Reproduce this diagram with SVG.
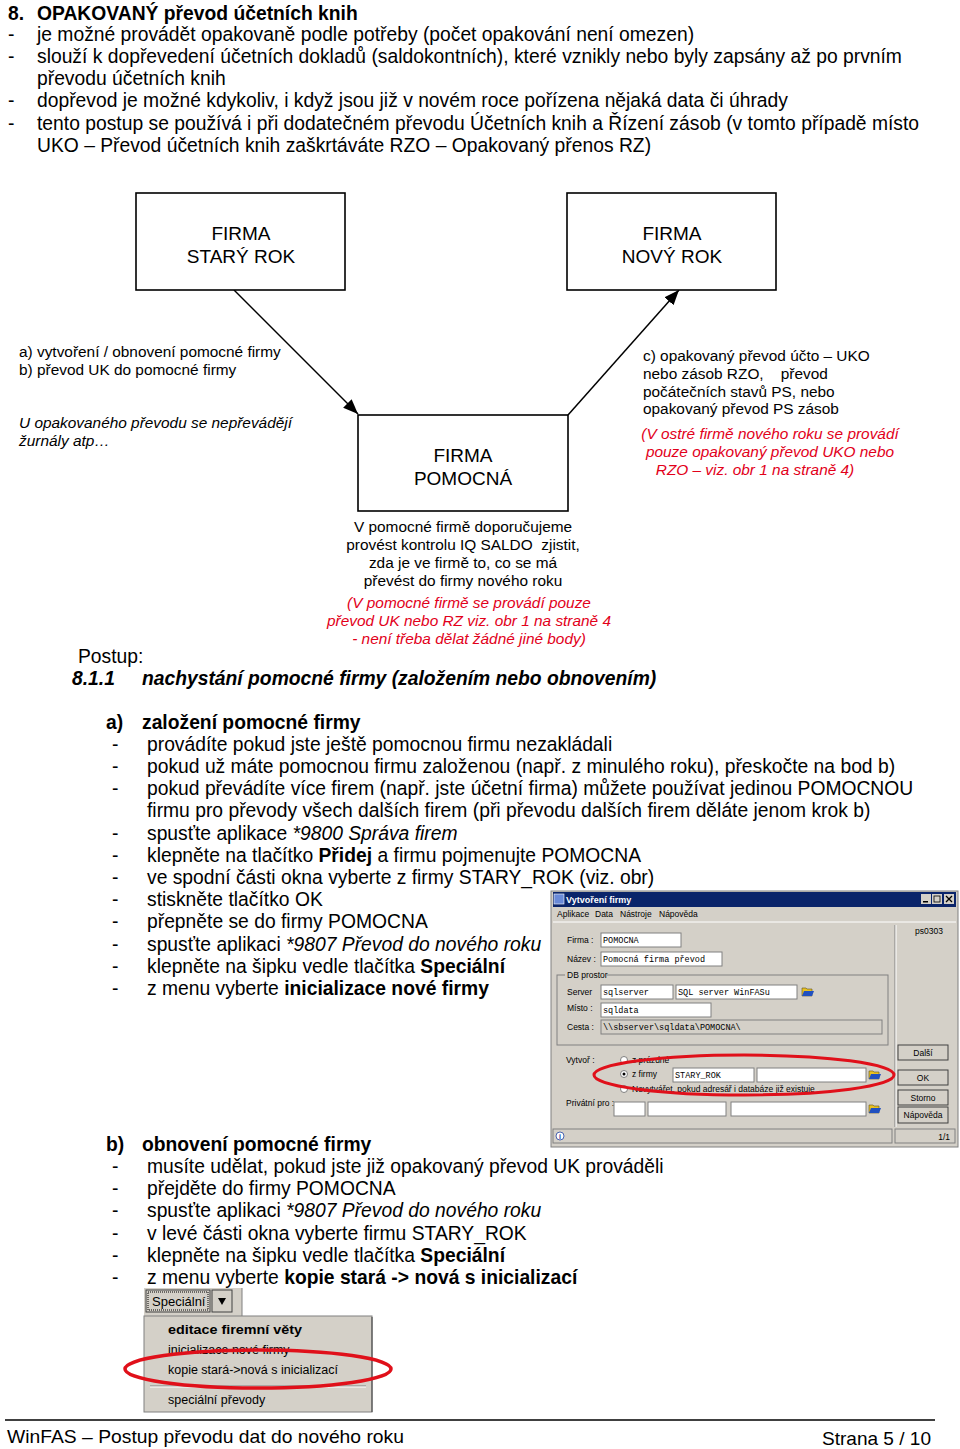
<svg xmlns="http://www.w3.org/2000/svg" width="960" height="1449" viewBox="0 0 960 1449">
<defs>
<style>
text{font-family:"Liberation Sans",Arial,sans-serif;fill:#000}
.h{font-size:19.3px}
.hb{font-size:19.3px;font-weight:bold}
.bx{font-size:19px}
.s{font-size:15.4px}
.r{font-size:15.4px;font-style:italic;fill:#e2001a}
.it{font-style:italic}
.bo{font-weight:bold}
.node{fill:#fff;stroke:#000;stroke-width:1.6}
.w{font-size:8.5px}
.m{font-family:"Liberation Mono","Courier New",monospace;font-size:8.5px}
.fld{fill:#fff;stroke:#808080;stroke-width:1}
.btn{fill:#d4d0c8;stroke:#404040;stroke-width:1}
.mn{font-size:12.5px}
</style>
<marker id="ah" markerWidth="16" markerHeight="12" refX="15" refY="6" orient="auto" markerUnits="userSpaceOnUse">
<path d="M0,0 L15,6 L0,12 Z" fill="#000"/>
</marker>
<g id="folder"><path d="M0,2 h4 l1,1 h5 v7 h-10 Z" fill="#e8c020" stroke="#605020" stroke-width="0.6"/><path d="M2,5 h10 l-2,5 h-10 Z" fill="#2050c0"/></g>
</defs>
<rect width="960" height="1449" fill="#fff"/>

<!-- header -->
<text class="hb" x="8" y="20">8.</text>
<text class="hb" x="37" y="20">OPAKOVANÝ převod účetních knih</text>
<text class="h" x="8" y="41">-</text><text class="h" x="37" y="41">je možné provádět opakovaně podle potřeby (počet opakování není omezen)</text>
<text class="h" x="8" y="63">-</text><text class="h" x="37" y="63">slouží k dopřevedení účetních dokladů (saldokontních), které vznikly nebo byly zapsány až po prvním</text>
<text class="h" x="37" y="85">převodu účetních knih</text>
<text class="h" x="8" y="107">-</text><text class="h" x="37" y="107">dopřevod je možné kdykoliv, i když jsou již v novém roce pořízena nějaká data či úhrady</text>
<text class="h" x="8" y="130">-</text><text class="h" x="37" y="130">tento postup se používá i při dodatečném převodu Účetních knih a Řízení zásob (v tomto případě místo</text>
<text class="h" x="37" y="152">UKO – Převod účetních knih zaškrtáváte RZO – Opakovaný přenos RZ)</text>

<!-- connectors -->
<g id="connectors" stroke="#000" stroke-width="1.5" fill="none">
<line x1="234" y1="290" x2="358" y2="414" marker-end="url(#ah)"/>
<line x1="568" y1="415" x2="679" y2="290" marker-end="url(#ah)"/>
</g>

<!-- nodes -->
<g id="node-stary">
<rect class="node" x="136" y="193" width="209" height="97"/>
<text class="bx" x="241" y="240" text-anchor="middle">FIRMA</text>
<text class="bx" x="241" y="263" text-anchor="middle">STARÝ ROK</text>
</g>
<g id="node-novy">
<rect class="node" x="567" y="193" width="209" height="97"/>
<text class="bx" x="672" y="240" text-anchor="middle">FIRMA</text>
<text class="bx" x="672" y="263" text-anchor="middle">NOVÝ ROK</text>
</g>
<g id="node-pomocna">
<rect class="node" x="358" y="415" width="210" height="96"/>
<text class="bx" x="463" y="462" text-anchor="middle">FIRMA</text>
<text class="bx" x="463" y="485" text-anchor="middle">POMOCNÁ</text>
</g>

<!-- side notes -->
<text class="s" x="19" y="357">a) vytvoření / obnovení pomocné firmy</text>
<text class="s" x="19" y="375">b) převod UK do pomocné firmy</text>
<text class="s it" x="19" y="428">U opakovaného převodu se nepřevádějí</text>
<text class="s it" x="19" y="446">žurnály atp…</text>

<text class="s" x="643" y="361">c) opakovaný převod účto – UKO</text>
<text class="s" x="643" y="379" xml:space="preserve">nebo zásob RZO,    převod</text>
<text class="s" x="643" y="397">počátečních stavů PS, nebo</text>
<text class="s" x="643" y="414">opakovaný převod PS zásob</text>
<text class="r" x="770" y="439" text-anchor="middle">(V ostré firmě nového roku se provádí</text>
<text class="r" x="770" y="457" text-anchor="middle">pouze opakovaný převod UKO nebo</text>
<text class="r" x="755" y="475" text-anchor="middle">RZO – viz. obr 1 na straně 4)</text>

<text class="s" x="463" y="532" text-anchor="middle">V pomocné firmě doporučujeme</text>
<text class="s" x="463" y="550" text-anchor="middle" xml:space="preserve">provést kontrolu IQ SALDO  zjistit,</text>
<text class="s" x="463" y="568" text-anchor="middle">zda je ve firmě to, co se má</text>
<text class="s" x="463" y="586" text-anchor="middle">převést do firmy nového roku</text>
<text class="r" x="469" y="608" text-anchor="middle">(V pomocné firmě se provádí pouze</text>
<text class="r" x="469" y="626" text-anchor="middle">převod UK nebo RZ viz. obr 1 na straně 4</text>
<text class="r" x="469" y="644" text-anchor="middle">- není třeba dělat žádné jiné body)</text>

<!-- procedure -->
<text class="h" x="78" y="663">Postup:</text>
<text class="hb it" x="72" y="685">8.1.1</text>
<text class="hb it" x="142" y="685">nachystání pomocné firmy (založením nebo obnovením)</text>

<text class="hb" x="106" y="729">a)</text><text class="hb" x="142" y="729">založení pomocné firmy</text>
<text class="h" x="112" y="751">-</text><text class="h" x="147" y="751">provádíte pokud jste ještě pomocnou firmu nezakládali</text>
<text class="h" x="112" y="773">-</text><text class="h" x="147" y="773">pokud už máte pomocnou firmu založenou (např. z minulého roku), přeskočte na bod b)</text>
<text class="h" x="112" y="795">-</text><text class="h" x="147" y="795">pokud převádíte více firem (např. jste účetní firma) můžete používat jedinou POMOCNOU</text>
<text class="h" x="147" y="817">firmu pro převody všech dalších firem (při převodu dalších firem děláte jenom krok b)</text>
<text class="h" x="112" y="840">-</text><text class="h" x="147" y="840">spusťte aplikace <tspan class="it">*9800 Správa firem</tspan></text>
<text class="h" x="112" y="862">-</text><text class="h" x="147" y="862">klepněte na tlačítko <tspan class="bo">Přidej</tspan> a firmu pojmenujte POMOCNA</text>
<text class="h" x="112" y="884">-</text><text class="h" x="147" y="884">ve spodní části okna vyberte z firmy STARY_ROK (viz. obr)</text>
<text class="h" x="112" y="906">-</text><text class="h" x="147" y="906">stiskněte tlačítko OK</text>
<text class="h" x="112" y="928">-</text><text class="h" x="147" y="928">přepněte se do firmy POMOCNA</text>
<text class="h" x="112" y="951">-</text><text class="h" x="147" y="951">spusťte aplikaci <tspan class="it">*9807 Převod do nového roku</tspan></text>
<text class="h" x="112" y="973">-</text><text class="h" x="147" y="973">klepněte na šipku vedle tlačítka <tspan class="bo">Speciální</tspan></text>
<text class="h" x="112" y="995">-</text><text class="h" x="147" y="995">z menu vyberte <tspan class="bo">inicializace nové firmy</tspan></text>

<text class="hb" x="106" y="1151">b)</text><text class="hb" x="142" y="1151">obnovení pomocné firmy</text>
<text class="h" x="112" y="1173">-</text><text class="h" x="147" y="1173">musíte udělat, pokud jste již opakovaný převod UK prováděli</text>
<text class="h" x="112" y="1195">-</text><text class="h" x="147" y="1195">přejděte do firmy POMOCNA</text>
<text class="h" x="112" y="1217">-</text><text class="h" x="147" y="1217">spusťte aplikaci <tspan class="it">*9807 Převod do nového roku</tspan></text>
<text class="h" x="112" y="1240">-</text><text class="h" x="147" y="1240">v levé části okna vyberte firmu STARY_ROK</text>
<text class="h" x="112" y="1262">-</text><text class="h" x="147" y="1262">klepněte na šipku vedle tlačítka <tspan class="bo">Speciální</tspan></text>
<text class="h" x="112" y="1284">-</text><text class="h" x="147" y="1284">z menu vyberte <tspan class="bo">kopie stará -&gt; nová s inicializací</tspan></text>

<!-- window screenshot -->
<rect x="551" y="891" width="407" height="256" fill="#d4d0c8" stroke="#808080"/>
<rect x="553" y="892" width="403" height="15" fill="#0a246a"/>
<rect x="554" y="894" width="10" height="10" fill="#6a8ad8" stroke="#fff" stroke-width="0.6"/>
<text x="566" y="903" style="font-size:9px;font-weight:bold;fill:#fff">Vytvoření firmy</text>
<rect x="921" y="894" width="10" height="10" fill="#d4d0c8"/><rect x="923" y="901" width="5" height="1.5" fill="#000"/>
<rect x="932" y="894" width="10" height="10" fill="#d4d0c8"/><rect x="934" y="896" width="6" height="6" fill="none" stroke="#000" stroke-width="0.8"/>
<rect x="944" y="894" width="10" height="10" fill="#d4d0c8"/><path d="M946,896 L952,902 M952,896 L946,902" stroke="#000" stroke-width="1.3"/>
<text class="w" x="557" y="917">Aplikace</text>
<text class="w" x="595" y="917">Data</text>
<text class="w" x="620" y="917">Nástroje</text>
<text class="w" x="659" y="917">Nápověda</text>
<line x1="553" y1="922" x2="956" y2="922" stroke="#fff"/>
<line x1="895" y1="925" x2="895" y2="1127" stroke="#808080"/>
<line x1="896" y1="925" x2="896" y2="1127" stroke="#fff"/>
<text class="w" x="915" y="934">ps0303</text>

<text class="w" x="567" y="943">Firma :</text>
<rect class="fld" x="601" y="933" width="80" height="14"/><text class="m" x="603" y="943">POMOCNA</text>
<text class="w" x="567" y="962">Název :</text>
<rect class="fld" x="601" y="952" width="121" height="14"/><text class="m" x="603" y="962">Pomocná firma převod</text>
<rect x="557" y="975" width="331" height="70" fill="none" stroke="#808080"/>
<rect x="565" y="971" width="42" height="8" fill="#d4d0c8"/>
<text class="w" x="567" y="978">DB prostor</text>
<text class="w" x="567" y="995">Server</text>
<rect class="fld" x="601" y="985" width="72" height="14"/><text class="m" x="603" y="995">sqlserver</text>
<rect class="fld" x="676" y="985" width="121" height="14"/><text class="m" x="678" y="995">SQL server WinFASu</text>
<use href="#folder" x="802" y="986"/>
<text class="w" x="567" y="1011">Místo :</text>
<rect class="fld" x="601" y="1003" width="110" height="14"/><text class="m" x="603" y="1013">sqldata</text>
<text class="w" x="567" y="1030">Cesta :</text>
<rect x="601" y="1020" width="281" height="14" fill="#d4d0c8" stroke="#808080"/><text class="m" x="603" y="1030">\\sbserver\sqldata\POMOCNA\</text>

<rect class="btn" x="898" y="1045" width="50" height="15"/><text class="w" x="923" y="1056" text-anchor="middle">Další</text>
<rect class="btn" x="898" y="1070" width="50" height="15" stroke="#000" stroke-width="1.5"/><text class="w" x="923" y="1081" text-anchor="middle">OK</text>
<rect class="btn" x="898" y="1090" width="50" height="15"/><text class="w" x="923" y="1101" text-anchor="middle">Storno</text>
<rect class="btn" x="898" y="1107" width="50" height="16"/><text class="w" x="923" y="1118" text-anchor="middle">Nápověda</text>

<text class="w" x="566" y="1063">Vytvoř :</text>
<circle cx="624" cy="1060" r="3.5" fill="#fff" stroke="#808080"/>
<text class="w" x="632" y="1063">z prázdné</text>
<circle cx="624" cy="1074" r="3.5" fill="#fff" stroke="#808080"/><circle cx="624" cy="1074" r="1.5" fill="#000"/>
<text class="w" x="632" y="1077">z firmy</text>
<rect class="fld" x="673" y="1068" width="81" height="14"/><text class="m" x="675" y="1078">STARY_ROK</text>
<rect class="fld" x="757" y="1068" width="109" height="14"/>
<use href="#folder" x="869" y="1069"/>
<circle cx="624" cy="1089" r="3.5" fill="#fff" stroke="#808080"/>
<text class="w" x="632" y="1092">Nevytvářet, pokud adresář i databáze již existuje</text>
<text class="w" x="566" y="1106">Privátní pro :</text>
<rect class="fld" x="614" y="1102" width="31" height="14"/>
<rect class="fld" x="648" y="1102" width="78" height="14"/>
<rect class="fld" x="731" y="1102" width="135" height="14"/>
<use href="#folder" x="869" y="1103"/>
<rect x="553" y="1129" width="339" height="14" fill="#d4d0c8" stroke="#808080"/>
<rect x="895" y="1129" width="60" height="14" fill="#d4d0c8" stroke="#808080"/>
<circle cx="560" cy="1136" r="4" fill="#fff" stroke="#2040a0" stroke-width="0.8"/><text x="560" y="1139" text-anchor="middle" style="font-size:7px;font-weight:bold;fill:#2040a0">i</text>
<text class="w" x="950" y="1140" text-anchor="end">1/1</text>
<ellipse cx="744" cy="1075" rx="150" ry="20" fill="none" stroke="#e0101a" stroke-width="3"/>

<!-- menu screenshot -->
<rect x="144" y="1288" width="98" height="28" fill="#d4d0c8"/>
<line x1="242" y1="1288" x2="242" y2="1316" stroke="#808080"/>
<rect x="146" y="1290" width="64" height="22" fill="#d4d0c8" stroke="#404040"/>
<rect x="148" y="1292" width="60" height="18" fill="none" stroke="#000" stroke-dasharray="1,1"/>
<text class="mn" x="152" y="1306" style="font-size:13px">Speciální</text>
<rect x="212" y="1290" width="20" height="22" fill="#d4d0c8" stroke="#404040"/>
<path d="M218,1298 h8 l-4,7 Z" fill="#000"/>
<rect x="144" y="1316" width="228" height="96" fill="#d4d0c8" stroke="#808080"/>
<line x1="372" y1="1317" x2="372" y2="1412" stroke="#404040"/>
<text class="mn bo" x="168" y="1334" textLength="134" lengthAdjust="spacingAndGlyphs">editace firemní věty</text>
<text class="mn" x="168" y="1354">inicializace nové firmy</text>
<text class="mn" x="168" y="1374">kopie stará-&gt;nová s inicializací</text>
<line x1="150" y1="1386" x2="366" y2="1386" stroke="#808080"/>
<line x1="150" y1="1387" x2="366" y2="1387" stroke="#fff"/>
<text class="mn" x="168" y="1404">speciální převody</text>
<ellipse cx="258" cy="1369" rx="133" ry="19" fill="none" stroke="#e0101a" stroke-width="3.5"/>

<!-- footer -->
<line x1="5" y1="1420" x2="935" y2="1420" stroke="#000" stroke-width="1.5"/>
<text x="7" y="1443" style="font-size:19px" textLength="397" lengthAdjust="spacingAndGlyphs">WinFAS – Postup převodu dat do nového roku</text>
<text x="822" y="1445" style="font-size:19px" textLength="109" lengthAdjust="spacingAndGlyphs">Strana 5 / 10</text>
</svg>
